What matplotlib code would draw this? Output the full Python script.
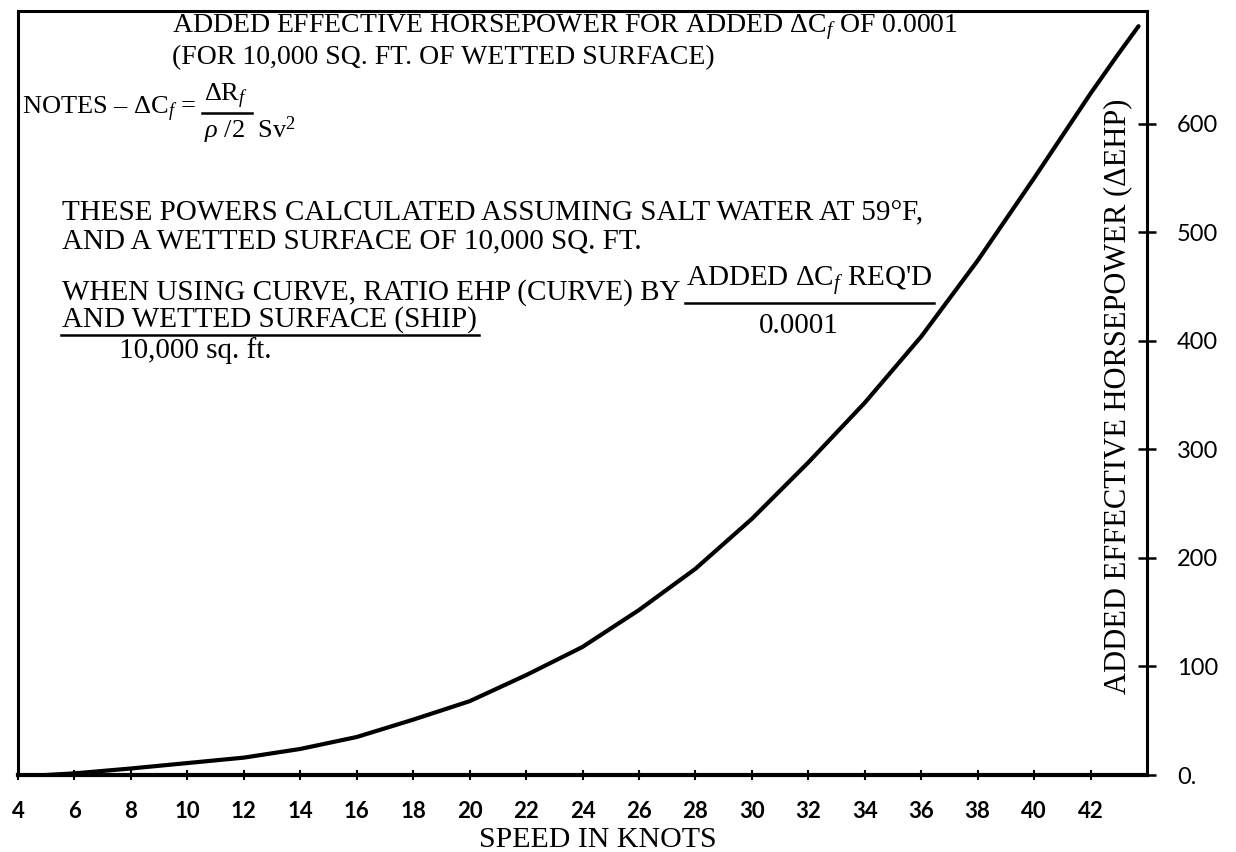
import matplotlib.pyplot as plt
from matplotlib.lines import Line2D

# curve (speed in knots, added EHP)
speed = [5, 6, 8, 10, 12, 14, 16, 18, 20, 22, 24, 26, 28, 30, 32, 34, 36, 38, 40, 41, 42, 43, 43.7]
ehp = [0, 1.5, 6, 11, 16, 24, 35, 51, 68, 92, 118, 152, 190, 236, 288, 343, 404, 474, 550, 589, 628, 665, 690]

xticks = list(range(4, 43, 2))
yticks = [0, 100, 200, 300, 400, 500, 600]
ytick_labels = ['0.', '100', '200', '300', '400', '500', '600']

plt.rcParams['mathtext.fontset'] = 'custom'
plt.rcParams['mathtext.rm'] = 'Liberation Serif'
plt.rcParams['mathtext.it'] = 'Liberation Serif:italic'

W, H = 1236, 852
FS = 21
fig = plt.figure(figsize=(W / 100, H / 100), dpi=100)
ax = fig.add_axes([18 / W, 1 - 775 / H, (1147 - 18) / W, (775 - 11) / H])

ax.plot(speed, ehp, color='black', lw=3, solid_capstyle='round')
ax.set_xlim(4, 44)
ax.set_ylim(0, 704)

for s in ax.spines.values():
    s.set_linewidth(2.2)
ax.spines['bottom'].set_linewidth(3)

ax.yaxis.tick_right()
ax.set_yticks(yticks)
ax.set_yticklabels(ytick_labels, fontsize=17, family='Lato')
ax.tick_params(axis='y', direction='inout', length=13, width=1.8, pad=15)
ax.set_xticks(xticks)
ax.set_xticklabels([str(t) for t in xticks], fontsize=16, family='Lato', fontweight='bold')
ax.tick_params(axis='x', direction='inout', length=7, width=1.5, pad=15)
ax.set_xlabel('SPEED IN KNOTS', fontsize=21.5, family='Liberation Serif')
ax.xaxis.set_label_coords((598 - 18) / (1147 - 18), -(840 - 775) / (775 - 11))
ax.xaxis.label.set_va('center')

serif = dict(family='Liberation Serif', fontsize=FS, color='black')
fig.canvas.draw()
rend = fig.canvas.get_renderer()


def put(x, y, s, **kw):
    opts = dict(serif)
    opts.update(kw)
    return fig.text(x / W, 1 - y / H, s, va='center', **opts)


def right_edge(t):
    return t.get_window_extent(rend).x1


def left_edge(t):
    return t.get_window_extent(rend).x0


def bar(x0, x1, y, lw=1.8):
    fig.add_artist(Line2D([x0 / W, x1 / W], [1 - y / H, 1 - y / H],
                          transform=fig.transFigure, color='black', lw=lw))


dcf = r'$\Delta\mathrm{C}_{\mathit{f}}$'
put(172, 27, 'ADDED EFFECTIVE HORSEPOWER FOR ADDED ' + dcf + ' OF 0.0001', fontsize=20)
put(172, 58, '(FOR 10,000 SQ. FT. OF WETTED SURFACE)', fontsize=20)

# notes with the definition of delta Cf
notes = put(22, 109, 'NOTES \u2013 ' + dcf + ' =', fontsize=19)
fx = right_edge(notes) + 8
num = put(fx, 96, r'$\Delta\mathrm{R}_{\mathit{f}}$', fontsize=19)
put(fx, 130, r'$\mathit{\rho}$ /2  Sv$^2$', fontsize=19)
bar(fx - 2, right_edge(num) + 4, 113)

put(62, 213, 'THESE POWERS CALCULATED ASSUMING SALT WATER AT 59\u00b0F,')
put(62, 241, 'AND A WETTED SURFACE OF 10,000 SQ. FT.')

when = put(62, 293, 'WHEN USING CURVE, RATIO EHP (CURVE) BY')
rx = right_edge(when) + 5
req = put(rx, 281, 'ADDED ' + dcf + " REQ'D")
bar(rx - 1, right_edge(req) + 2, 303)
put((rx + right_edge(req)) / 2 - 10, 326, '0.0001', ha='center')
ship = put(62, 320, 'AND WETTED SURFACE (SHIP)')
bar(left_edge(ship) - 1, right_edge(ship) + 2, 335)
put(119, 351, '10,000 sq. ft.')

fig.text(1118 / W, 1 - 396 / H, 'ADDED EFFECTIVE HORSEPOWER (\u0394EHP)', rotation=90,
         ha='center', va='center', family='Liberation Serif', fontsize=22)

fig.savefig('out.png', dpi=100)
